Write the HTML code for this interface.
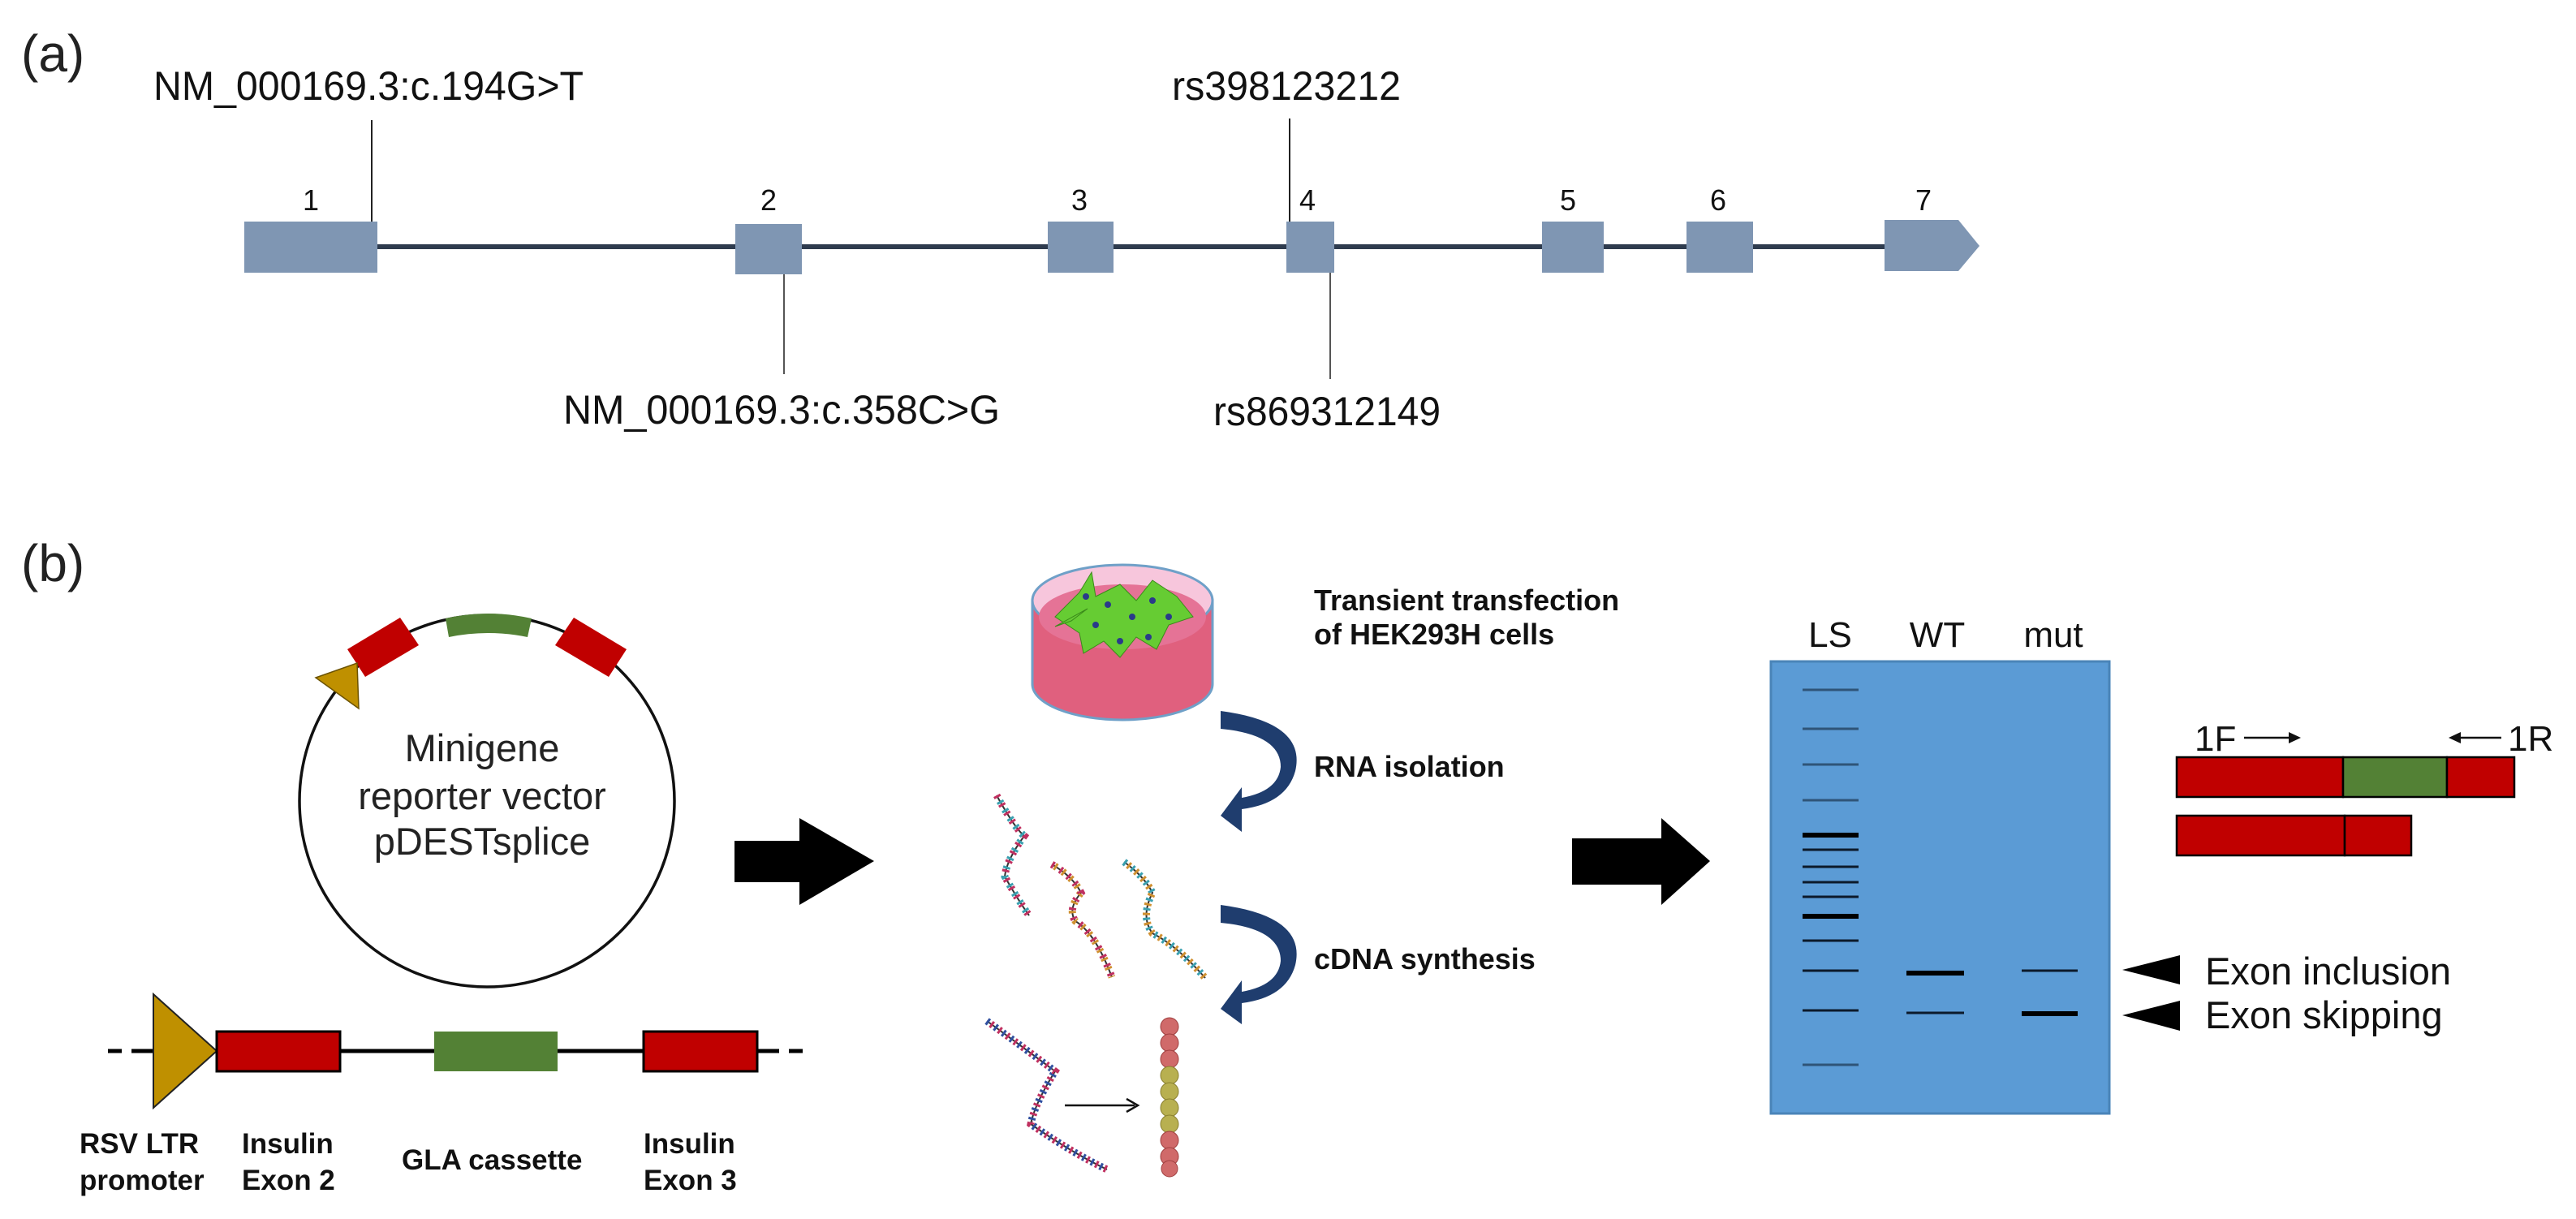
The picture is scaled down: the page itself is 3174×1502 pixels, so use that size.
<!DOCTYPE html>
<html><head><meta charset="utf-8"><style>html,body{margin:0;padding:0;background:#fff}svg{display:block}</style></head>
<body>
<svg width="3174" height="1502" viewBox="0 0 3174 1502" xmlns="http://www.w3.org/2000/svg" font-family="Liberation Sans, Arial, sans-serif">
<!-- (a) -->
<text x="26" y="88" font-size="64" fill="#222">(a)</text>
<line x1="465" y1="304" x2="2330" y2="304" stroke="#2e3b4e" stroke-width="6"/>
<g fill="#7f96b3">
<rect x="301" y="273" width="164" height="63"/>
<rect x="906" y="276" width="82" height="62"/>
<rect x="1291" y="273" width="81" height="63"/>
<rect x="1585" y="273" width="59" height="63"/>
<rect x="1900" y="273" width="76" height="63"/>
<rect x="2078" y="273" width="82" height="63"/>
<polygon points="2322,271 2413,271 2439,303 2413,334 2322,334"/>
</g>
<g font-size="36" fill="#111" text-anchor="middle">
<text x="383" y="259">1</text><text x="947" y="259">2</text><text x="1330" y="259">3</text><text x="1611" y="259">4</text><text x="1932" y="259">5</text><text x="2117" y="259">6</text><text x="2370" y="259">7</text>
</g>
<g stroke="#222" stroke-width="2">
<line x1="458" y1="148" x2="458" y2="273"/>
<line x1="1589" y1="146" x2="1589" y2="273"/>
<line x1="966" y1="338" x2="966" y2="461" stroke="#555"/>
<line x1="1639" y1="336" x2="1639" y2="467" stroke="#555"/>
</g>
<g font-size="50" fill="#111">
<text x="189" y="123" textLength="530" lengthAdjust="spacingAndGlyphs">NM_000169.3:c.194G&gt;T</text>
<text x="1444" y="123" textLength="282" lengthAdjust="spacingAndGlyphs">rs398123212</text>
<text x="694" y="522" textLength="538" lengthAdjust="spacingAndGlyphs">NM_000169.3:c.358C&gt;G</text>
<text x="1495" y="524" textLength="280" lengthAdjust="spacingAndGlyphs">rs869312149</text>
</g>
<!-- (b) -->
<text x="26" y="716" font-size="64" fill="#222">(b)</text>
<ellipse cx="600" cy="987" rx="231" ry="229" fill="none" stroke="#111" stroke-width="3.5"/>
<path d="M549,762 Q601,750 655,762 L650,785 Q601,775 553,785 Z" fill="#538135"/>
<polygon points="428,800 493,761 516,795 450,834" fill="#c00000"/>
<polygon points="684,795 707,761 772,800 750,834" fill="#c00000"/>
<polygon points="389,835 440,817 442,873" fill="#bf9000" stroke="#6b5200" stroke-width="1.5"/>
<g font-size="47" fill="#222" text-anchor="middle">
<text x="594" y="938">Minigene</text><text x="594" y="997">reporter vector</text><text x="594" y="1053">pDESTsplice</text>
</g>
<polygon points="905,1036 985,1036 985,1008 1077,1061 985,1115 985,1087 905,1087" fill="#000"/>
<line x1="133" y1="1295" x2="989" y2="1295" stroke="#000" stroke-width="5" />
<rect x="128" y="1285" width="60" height="20" fill="#fff"/><rect x="930" y="1285" width="65" height="20" fill="#fff"/>
<g stroke="#000" stroke-width="5"><line x1="133" y1="1295" x2="150" y2="1295"/><line x1="162" y1="1295" x2="189" y2="1295"/><line x1="933" y1="1295" x2="960" y2="1295"/><line x1="972" y1="1295" x2="989" y2="1295"/></g>
<polygon points="189,1225 267,1295 189,1365" fill="#bf9000" stroke="#222" stroke-width="2"/>
<rect x="267" y="1271" width="152" height="49" fill="#c00000" stroke="#000" stroke-width="3"/>
<rect x="535" y="1271" width="152" height="49" fill="#538135"/>
<rect x="793" y="1271" width="140" height="49" fill="#c00000" stroke="#000" stroke-width="3"/>
<g font-size="35" font-weight="bold" fill="#111">
<text x="98" y="1421">RSV LTR</text><text x="98" y="1466">promoter</text>
<text x="298" y="1421">Insulin</text><text x="298" y="1466">Exon 2</text>
<text x="495" y="1441">GLA cassette</text>
<text x="793" y="1421">Insulin</text><text x="793" y="1466">Exon 3</text>
</g>
<!-- petri dish -->
<path d="M1272,740 L1272,843 A111,44 0 0 0 1494,843 L1494,740 Z" fill="#e0607e" stroke="#6fa0c8" stroke-width="3"/>
<ellipse cx="1383" cy="740" rx="111" ry="44" fill="#f7c6dc" stroke="#6fa0c8" stroke-width="3"/>
<ellipse cx="1383" cy="760" rx="103" ry="40" fill="#e57396"/>
<g fill="#66cc33" stroke="#3a8a1a" stroke-width="1">
<path d="M1300,760 L1330,730 L1345,705 L1350,735 L1380,720 L1400,740 L1420,715 L1450,735 L1470,760 L1440,770 L1425,800 L1400,785 L1380,810 L1360,790 L1335,805 L1330,780 Z"/>
<path d="M1320,765 L1300,772 L1340,750 Z"/>
</g>
<g fill="#2a3a8a">
<circle cx="1338" cy="735" r="4"/><circle cx="1365" cy="745" r="4"/><circle cx="1395" cy="760" r="4"/><circle cx="1420" cy="740" r="4"/><circle cx="1440" cy="760" r="4"/><circle cx="1380" cy="790" r="4"/><circle cx="1350" cy="770" r="4"/><circle cx="1415" cy="785" r="4"/>
</g>
<g font-size="36" font-weight="bold" fill="#111">
<text x="1619" y="752">Transient transfection</text><text x="1619" y="794">of HEK293H cells</text>
<text x="1619" y="957">RNA isolation</text>
<text x="1619" y="1194">cDNA synthesis</text>
</g>
<!-- curved arrows -->
<g fill="#1f3d6e">
<path d="M1504,876 Q1610,890 1596,950 Q1585,990 1530,997 L1530,983 Q1575,975 1578,945 Q1578,905 1504,898 Z"/>
<polygon points="1504,1005 1530,970 1530,1025"/>
<path d="M1504,1115 Q1610,1129 1596,1189 Q1585,1229 1530,1236 L1530,1222 Q1575,1214 1578,1184 Q1578,1144 1504,1137 Z"/>
<polygon points="1504,1243 1530,1208 1530,1262"/>
</g>
<!-- RNA strands -->
<g fill="none">
<g stroke="#333" stroke-width="2">
<path d="M1228,980 Q1250,1020 1262,1030 Q1240,1060 1238,1080 Q1255,1110 1268,1128"/>
<path d="M1296,1065 Q1322,1080 1332,1100 Q1315,1120 1325,1135 Q1350,1150 1370,1204"/>
<path d="M1385,1062 Q1410,1080 1420,1100 Q1405,1130 1420,1150 Q1450,1165 1485,1205"/>
<path d="M1216,1258 Q1260,1290 1300,1320 Q1275,1360 1270,1385 Q1320,1420 1364,1441"/>
</g>
<g stroke-width="9" stroke-dasharray="3 9">
<path stroke="#c03060" d="M1228,980 Q1250,1020 1262,1030 Q1240,1060 1238,1080 Q1255,1110 1268,1128"/>
<path stroke="#3aa0b0" stroke-dashoffset="4" d="M1228,980 Q1250,1020 1262,1030 Q1240,1060 1238,1080 Q1255,1110 1268,1128"/>
<path stroke="#d09030" stroke-dashoffset="8" d="M1296,1065 Q1322,1080 1332,1100 Q1315,1120 1325,1135 Q1350,1150 1370,1204"/>
<path stroke="#c03060" d="M1296,1065 Q1322,1080 1332,1100 Q1315,1120 1325,1135 Q1350,1150 1370,1204"/>
<path stroke="#3aa0b0" d="M1385,1062 Q1410,1080 1420,1100 Q1405,1130 1420,1150 Q1450,1165 1485,1205"/>
<path stroke="#d09030" stroke-dashoffset="6" d="M1385,1062 Q1410,1080 1420,1100 Q1405,1130 1420,1150 Q1450,1165 1485,1205"/>
<path stroke="#3050a0" d="M1216,1258 Q1260,1290 1300,1320 Q1275,1360 1270,1385 Q1320,1420 1364,1441"/>
<path stroke="#c03060" stroke-dashoffset="6" d="M1216,1258 Q1260,1290 1300,1320 Q1275,1360 1270,1385 Q1320,1420 1364,1441"/>
</g>
</g>
<line x1="1312" y1="1362" x2="1398" y2="1362" stroke="#111" stroke-width="2.5"/>
<polyline points="1388,1354 1402,1362 1388,1370" fill="none" stroke="#111" stroke-width="2.5"/>
<g stroke="#a04040" stroke-width="1">
<circle cx="1441" cy="1265" r="11" fill="#d06a6a"/><circle cx="1441" cy="1285" r="11" fill="#d06a6a"/><circle cx="1441" cy="1305" r="11" fill="#d06a6a"/>
<circle cx="1441" cy="1325" r="11" fill="#b8b050" stroke="#8a8030"/><circle cx="1441" cy="1345" r="11" fill="#b8b050" stroke="#8a8030"/><circle cx="1441" cy="1365" r="11" fill="#b8b050" stroke="#8a8030"/><circle cx="1441" cy="1385" r="11" fill="#b8b050" stroke="#8a8030"/>
<circle cx="1441" cy="1405" r="11" fill="#d06a6a"/><circle cx="1441" cy="1425" r="11" fill="#d06a6a"/><circle cx="1441" cy="1440" r="10" fill="#d06a6a"/>
</g>
<polygon points="1937,1033 2047,1033 2047,1008 2107,1061 2047,1115 2047,1090 1937,1090" fill="#000"/>
<!-- gel -->
<rect x="2182" y="815" width="417" height="557" fill="#5b9bd5" stroke="#4a84b8" stroke-width="3"/>
<g font-size="44" fill="#111" text-anchor="middle">
<text x="2255" y="797">LS</text><text x="2387" y="797">WT</text><text x="2530" y="797">mut</text>
</g>
<g stroke-width="3">
<g stroke="#2f5478"><line x1="2221" y1="850" x2="2290" y2="850"/><line x1="2221" y1="898" x2="2290" y2="898"/><line x1="2221" y1="942" x2="2290" y2="942"/><line x1="2221" y1="986" x2="2290" y2="986"/><line x1="2221" y1="1312" x2="2290" y2="1312"/></g>
<g stroke="#0c1a2a"><line x1="2221" y1="1047" x2="2290" y2="1047"/><line x1="2221" y1="1068" x2="2290" y2="1068"/><line x1="2221" y1="1087" x2="2290" y2="1087"/><line x1="2221" y1="1105" x2="2290" y2="1105"/><line x1="2221" y1="1159" x2="2290" y2="1159"/><line x1="2221" y1="1196" x2="2290" y2="1196"/><line x1="2221" y1="1245" x2="2290" y2="1245"/>
<line x1="2349" y1="1248" x2="2420" y2="1248"/><line x1="2491" y1="1196" x2="2560" y2="1196"/></g>
<g stroke="#000" stroke-width="6"><line x1="2221" y1="1029" x2="2290" y2="1029"/><line x1="2221" y1="1129" x2="2290" y2="1129"/><line x1="2349" y1="1199" x2="2420" y2="1199"/><line x1="2491" y1="1249" x2="2560" y2="1249"/></g>
</g>
<polygon points="2615,1195 2686,1177 2686,1213" fill="#000"/>
<polygon points="2615,1251 2686,1233 2686,1270" fill="#000"/>
<g font-size="47" fill="#111"><text x="2717" y="1213">Exon inclusion</text><text x="2717" y="1267">Exon skipping</text></g>
<!-- transcripts -->
<rect x="2682" y="933" width="205" height="49" fill="#c00000" stroke="#000" stroke-width="2.5"/>
<rect x="2887" y="933" width="128" height="49" fill="#538135" stroke="#000" stroke-width="2.5"/>
<rect x="3015" y="933" width="83" height="49" fill="#c00000" stroke="#000" stroke-width="2.5"/>
<rect x="2682" y="1005" width="207" height="49" fill="#c00000" stroke="#000" stroke-width="2.5"/>
<rect x="2889" y="1005" width="82" height="49" fill="#c00000" stroke="#000" stroke-width="2.5"/>
<g font-size="44" fill="#111"><text x="2704" y="925">1F</text><text x="3090" y="925">1R</text></g>
<line x1="2765" y1="909" x2="2825" y2="909" stroke="#111" stroke-width="2.5"/><polygon points="2835,909 2820,902 2820,916" fill="#111"/>
<line x1="3027" y1="909" x2="3082" y2="909" stroke="#111" stroke-width="2.5"/><polygon points="3017,909 3032,902 3032,916" fill="#111"/>
</svg>
</body></html>
